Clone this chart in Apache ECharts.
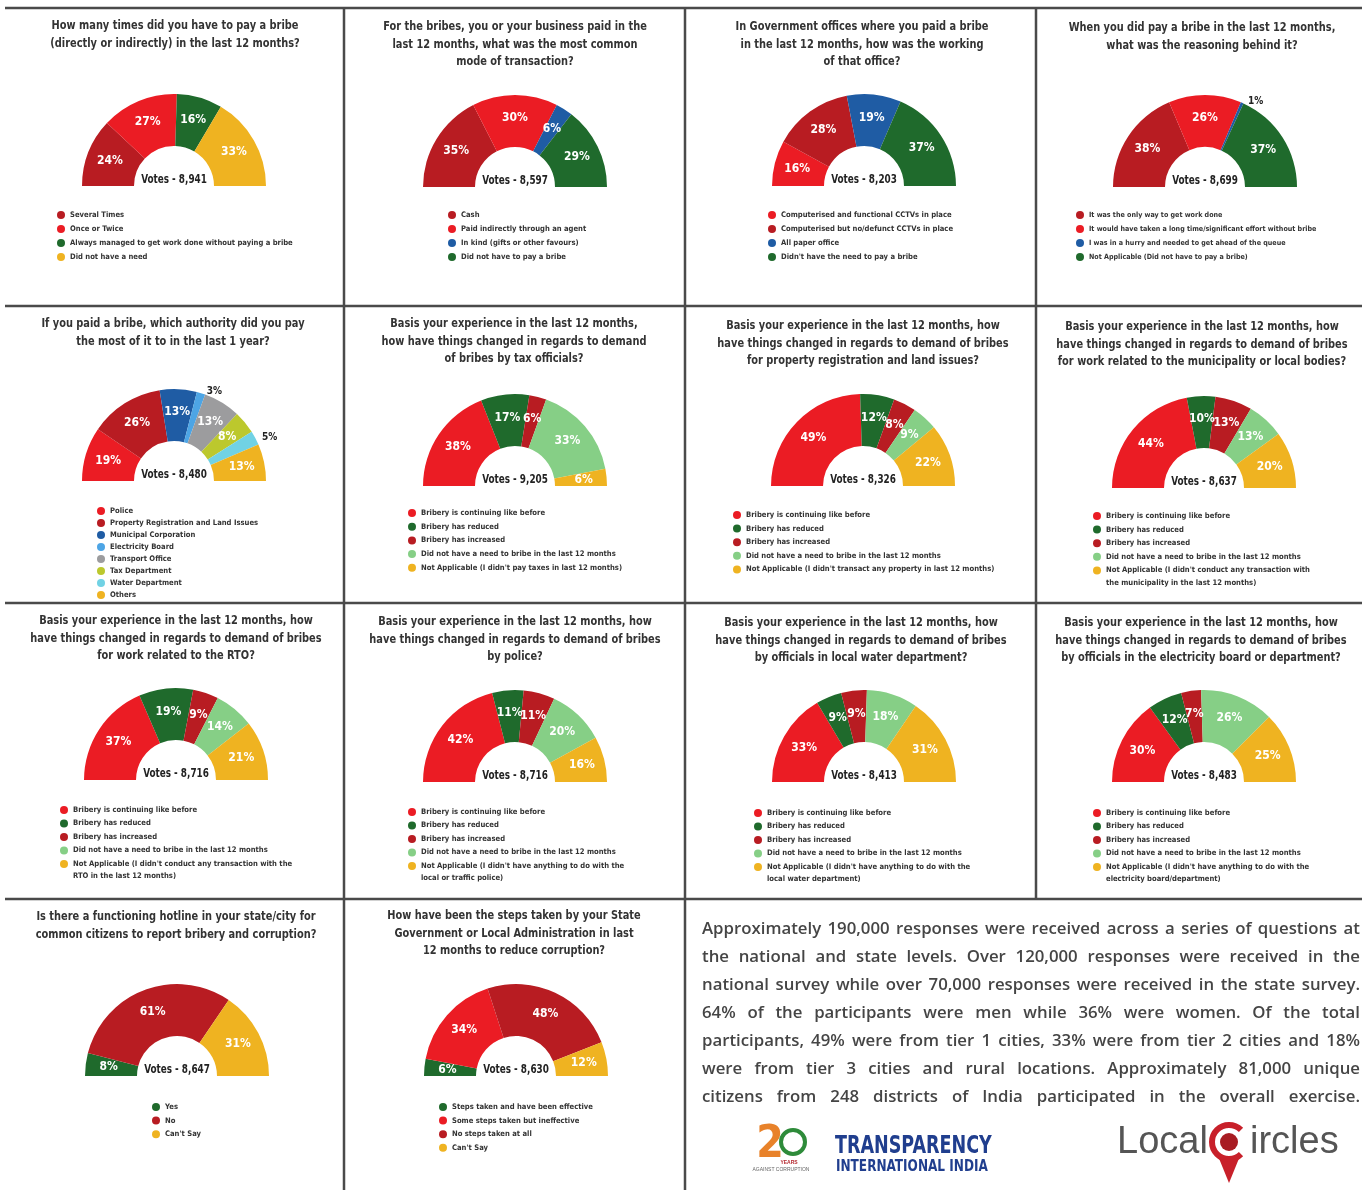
<!DOCTYPE html>
<html>
<head>
<meta charset="utf-8">
<script src="https://cdn.jsdelivr.net/npm/echarts@6/dist/echarts.min.js"></script>
<style>
html,body{margin:0;padding:0;background:#fff;}
#chart{position:absolute;left:0;top:0;width:1367px;height:1190px;}
#para{position:absolute;left:702px;top:914px;width:658px;font-family:"Open Sans",Lato,sans-serif;font-weight:600;font-size:16.8px;color:#454545;z-index:5;}
#para div{height:28px;line-height:28px;text-align:justify;text-align-last:justify;white-space:nowrap;}
</style>
</head>
<body>
<div id="chart"></div>
<div id="para">
<div>Approximately 190,000 responses were received across a series of questions at</div>
<div>the national and state levels. Over 120,000 responses were received in the</div>
<div>national survey while over 70,000 responses were received in the state survey.</div>
<div>64% of the participants were men while 36% were women. Of the total</div>
<div>participants, 49% were from tier 1 cities, 33% were from tier 2 cities and 18%</div>
<div>were from tier 3 cities and rural locations. Approximately 81,000 unique</div>
<div>citizens from 248 districts of India participated in the overall exercise.</div>
</div>
<script>
// ---------------- DATA ----------------
const q1Title = 'How many times did you have to pay a bribe\n(directly or indirectly) in the last 12 months?';
const q1Names = ['Several Times', 'Once or Twice', 'Always managed to get work done without paying a bribe', 'Did not have a need'];
const q1Values = [24, 27, 16, 33];
const q1Votes = 'Votes - 8,941';

const q2Title = 'For the bribes, you or your business paid in the\nlast 12 months, what was the most common\nmode of transaction?';
const q2Names = ['Cash', 'Paid indirectly through an agent', 'In kind (gifts or other favours)', 'Did not have to pay a bribe'];
const q2Values = [35, 30, 6, 29];
const q2Votes = 'Votes - 8,597';

const q3Title = 'In Government offices where you paid a bribe\nin the last 12 months, how was the working\nof that office?';
const q3Names = ['Computerised and functional CCTVs in place', 'Computerised but no/defunct CCTVs in place', 'All paper office', "Didn't have the need to pay a bribe"];
const q3Values = [16, 28, 19, 37];
const q3Votes = 'Votes - 8,203';

const q4Title = 'When you did pay a bribe in the last 12 months,\nwhat was the reasoning behind it?';
const q4Names = ['It was the only way to get work done', 'It would have taken a long time/significant effort without bribe', 'I was in a hurry and needed to get ahead of the queue', 'Not Applicable (Did not have to pay a bribe)'];
const q4Values = [38, 26, 1, 37];
const q4Votes = 'Votes - 8,699';

const q5Title = 'If you paid a bribe, which authority did you pay\nthe most of it to in the last 1 year?';
const q5Names = ['Police', 'Property Registration and Land Issues', 'Municipal Corporation', 'Electricity Board', 'Transport Office', 'Tax Department', 'Water Department', 'Others'];
const q5Values = [19, 26, 13, 3, 13, 8, 5, 13];
const q5Votes = 'Votes - 8,480';

const changeNames = ['Bribery is continuing like before', 'Bribery has reduced', 'Bribery has increased', 'Did not have a need to bribe in the last 12 months'];

const q6Title = 'Basis your experience in the last 12 months,\nhow have things changed in regards to demand\nof bribes by tax officials?';
const q6Names = changeNames.concat(["Not Applicable (I didn't pay taxes in last 12 months)"]);
const q6Values = [38, 17, 6, 33, 6];
const q6Votes = 'Votes - 9,205';

const q7Title = 'Basis your experience in the last 12 months, how\nhave things changed in regards to demand of bribes\nfor property registration and land issues?';
const q7Names = changeNames.concat(["Not Applicable (I didn't transact any property in last 12 months)"]);
const q7Values = [49, 12, 8, 9, 22];
const q7Votes = 'Votes - 8,326';

const q8Title = 'Basis your experience in the last 12 months, how\nhave things changed in regards to demand of bribes\nfor work related to the municipality or local bodies?';
const q8Names = changeNames.concat(["Not Applicable (I didn't conduct any transaction with\nthe municipality in the last 12 months)"]);
const q8Values = [44, 10, 13, 13, 20];
const q8Votes = 'Votes - 8,637';

const q9Title = 'Basis your experience in the last 12 months, how\nhave things changed in regards to demand of bribes\nfor work related to the RTO?';
const q9Names = changeNames.concat(["Not Applicable (I didn't conduct any transaction with the\nRTO in the last 12 months)"]);
const q9Values = [37, 19, 9, 14, 21];
const q9Votes = 'Votes - 8,716';

const q10Title = 'Basis your experience in the last 12 months, how\nhave things changed in regards to demand of bribes\nby police?';
const q10Names = changeNames.concat(["Not Applicable (I didn't have anything to do with the\nlocal or traffic police)"]);
const q10Values = [42, 11, 11, 20, 16];
const q10Votes = 'Votes - 8,716';

const q11Title = 'Basis your experience in the last 12 months, how\nhave things changed in regards to demand of bribes\nby officials in local water department?';
const q11Names = changeNames.concat(["Not Applicable (I didn't have anything to do with the\nlocal water department)"]);
const q11Values = [33, 9, 9, 18, 31];
const q11Votes = 'Votes - 8,413';

const q12Title = 'Basis your experience in the last 12 months, how\nhave things changed in regards to demand of bribes\nby officials in the electricity board or department?';
const q12Names = changeNames.concat(["Not Applicable (I didn't have anything to do with the\nelectricity board/department)"]);
const q12Values = [30, 12, 7, 26, 25];
const q12Votes = 'Votes - 8,483';

const q13Title = 'Is there a functioning hotline in your state/city for\ncommon citizens to report bribery and corruption?';
const q13Names = ['Yes', 'No', "Can't Say"];
const q13Values = [8, 61, 31];
const q13Votes = 'Votes - 8,647';

const q14Title = 'How have been the steps taken by your State\nGovernment or Local Administration in last\n12 months to reduce corruption?';
const q14Names = ['Steps taken and have been effective', 'Some steps taken but ineffective', 'No steps taken at all', "Can't Say"];
const q14Values = [6, 34, 48, 12];
const q14Votes = 'Votes - 8,630';

// ---------------- STYLE ----------------
const DR = '#B81C22', R = '#EB1C24', DG = '#1F6A2C', Y = '#EFB321', B = '#1F5CA4',
      LB = '#4DA5E5', GY = '#9C9C9E', YG = '#BCC82D', CY = '#71D2E4', LG = '#86CF86';
const NARROW = '"DejaVu Sans Condensed","Liberation Sans Narrow",Roboto,sans-serif';

const panels = [
  {title: q1Title, names: q1Names, values: q1Values, votes: q1Votes, colors: [DR, R, DG, Y], outside: []},
  {title: q2Title, names: q2Names, values: q2Values, votes: q2Votes, colors: [DR, R, B, DG], outside: []},
  {title: q3Title, names: q3Names, values: q3Values, votes: q3Votes, colors: [R, DR, B, DG], outside: []},
  {title: q4Title, names: q4Names, values: q4Values, votes: q4Votes, colors: [DR, R, B, DG], outside: [2]},
  {title: q5Title, names: q5Names, values: q5Values, votes: q5Votes, colors: [R, DR, B, LB, GY, YG, CY, Y], outside: [3, 6]},
  {title: q6Title, names: q6Names, values: q6Values, votes: q6Votes, colors: [R, DG, DR, LG, Y], outside: []},
  {title: q7Title, names: q7Names, values: q7Values, votes: q7Votes, colors: [R, DG, DR, LG, Y], outside: []},
  {title: q8Title, names: q8Names, values: q8Values, votes: q8Votes, colors: [R, DG, DR, LG, Y], outside: []},
  {title: q9Title, names: q9Names, values: q9Values, votes: q9Votes, colors: [R, DG, DR, LG, Y], outside: []},
  {title: q10Title, names: q10Names, values: q10Values, votes: q10Votes, colors: [R, DG, DR, LG, Y], outside: []},
  {title: q11Title, names: q11Names, values: q11Values, votes: q11Votes, colors: [R, DG, DR, LG, Y], outside: []},
  {title: q12Title, names: q12Names, values: q12Values, votes: q12Votes, colors: [R, DG, DR, LG, Y], outside: []},
  {title: q13Title, names: q13Names, values: q13Values, votes: q13Votes, colors: [DG, DR, Y], outside: []},
  {title: q14Title, names: q14Names, values: q14Values, votes: q14Votes, colors: [DG, R, DR, Y], outside: []}
];

// layout: pie centre x, baseline y, title centre x, first title line y, legend marker x, first legend y, legend row gap
const layout = [
  {cx: 174, by: 186, tx: 175, ty: 26, lx: 61, ly: 215, gap: 14},
  {cx: 515, by: 187, tx: 515, ty: 27, lx: 452, ly: 215, gap: 14},
  {cx: 864, by: 186, tx: 862, ty: 27, lx: 772, ly: 215, gap: 14},
  {cx: 1205, by: 187, tx: 1202, ty: 28, lx: 1080, ly: 215, gap: 14, fs: 7.1},
  {cx: 174, by: 481, tx: 173, ty: 324, lx: 101, ly: 511, gap: 12, lh: 11},
  {cx: 515, by: 486, tx: 514, ty: 324, lx: 412, ly: 513, gap: 13.7},
  {cx: 863, by: 486, tx: 863, ty: 326, lx: 737, ly: 515, gap: 13.6},
  {cx: 1204, by: 488, tx: 1202, ty: 327, lx: 1097, ly: 516, gap: 13.6},
  {cx: 176, by: 780, tx: 176, ty: 621, lx: 64, ly: 810, gap: 13.5},
  {cx: 515, by: 782, tx: 515, ty: 622, lx: 412, ly: 812, gap: 13.5},
  {cx: 864, by: 782, tx: 861, ty: 623, lx: 758, ly: 813, gap: 13.5},
  {cx: 1204, by: 782, tx: 1201, ty: 623, lx: 1097, ly: 813, gap: 13.5},
  {cx: 177, by: 1076, tx: 176, ty: 917, lx: 156, ly: 1107, gap: 13.6},
  {cx: 516, by: 1076, tx: 514, ty: 916, lx: 443, ly: 1107, gap: 13.6}
];
const OUTER_R = 92, INNER_R = 40, TITLE_LH = 17.5, TITLE_SCALE = 0.84;

const series = [], legends = [], graphics = [];
panels.forEach(function (p, k) {
  const L = layout[k];
  series.push({
    type: 'pie',
    center: [L.cx, L.by],
    radius: [INNER_R, OUTER_R],
    startAngle: 180,
    endAngle: 0,
    avoidLabelOverlap: false,
    labelLayout: {hideOverlap: false},
    silent: true,
    animation: false,
    label: {show: true, position: 'inside', formatter: '{c}%', color: '#fff', fontSize: 12, fontWeight: 'bold', fontFamily: NARROW},
    labelLine: {show: false},
    emphasis: {disabled: true},
    data: p.names.map(function (n, i) {
      const d = {name: n, value: p.values[i], itemStyle: {color: p.colors[i]}};
      if (p.outside.indexOf(i) >= 0) {
        d.label = {position: 'outside', color: '#222', fontSize: 10};
        d.labelLine = {show: false, length: 2, length2: 0};
      }
      return d;
    })
  });

  const lh = L.lh || 12.5;
  const common = {
    orient: 'vertical', icon: 'circle', itemWidth: 8, itemHeight: 8, padding: 0,
    selectedMode: false,
    textStyle: {fontSize: L.fs || 7.6, fontWeight: 'bold', color: '#333', fontFamily: NARROW, lineHeight: lh}
  };
  const n = p.names.length;
  const multi = p.names[n - 1].indexOf('\n') >= 0;
  const mainNames = multi ? p.names.slice(0, n - 1) : p.names;
  legends.push(Object.assign({}, common, {data: mainNames, left: L.lx - 4, top: L.ly - lh / 2, itemGap: L.gap - lh}));
  if (multi) {
    // leading blank line keeps the marker level with the first line of the two-line entry
    legends.push(Object.assign({}, common, {
      data: [p.names[n - 1]],
      formatter: function (name) { return '\n' + name; },
      left: L.lx - 4, top: L.ly + (n - 1) * L.gap - 1.5 * lh
    }));
  }

  graphics.push({
    type: 'text', x: L.tx, y: L.ty - TITLE_LH / 2, scaleX: TITLE_SCALE, silent: true,
    style: {text: p.title, fill: '#333', fontSize: 13, fontWeight: 'bold', fontFamily: NARROW, lineHeight: TITLE_LH,
      align: 'center', textAlign: 'center', verticalAlign: 'top', textVerticalAlign: 'top'}
  });
  graphics.push({
    type: 'text', x: L.cx, y: L.by - 6, scaleX: 0.82, z: 10, silent: true,
    style: {text: p.votes, fill: '#222', fontSize: 12, fontWeight: 'bold', fontFamily: NARROW,
      align: 'center', textAlign: 'center', verticalAlign: 'middle', textVerticalAlign: 'middle'}
  });
});

// panel dividers
const LINE = {stroke: '#4a4a4a', lineWidth: 2.5};
[[5, 8, 1362, 8], [5, 306, 1362, 306], [5, 603, 1362, 603], [5, 899, 1362, 899],
 [344, 8, 344, 1190], [685, 8, 685, 1190], [1036, 8, 1036, 899]].forEach(function (s) {
  graphics.push({type: 'line', silent: true, shape: {x1: s[0], y1: s[1], x2: s[2], y2: s[3]}, style: LINE});
});

// logos
const MID = {verticalAlign: 'middle', textVerticalAlign: 'middle'};
graphics.push(
  {type: 'text', x: 770, y: 1146, silent: true, style: Object.assign({text: '2', fill: '#E8822A', fontSize: 44, fontWeight: 'bold', fontFamily: NARROW, align: 'center', textAlign: 'center'}, MID)},
  {type: 'circle', silent: true, shape: {cx: 793, cy: 1142, r: 12}, style: {fill: 'none', stroke: '#2E8B3A', lineWidth: 4}},
  {type: 'text', x: 789, y: 1163, silent: true, style: Object.assign({text: 'YEARS', fill: '#B4282E', fontSize: 5, fontWeight: 'bold', align: 'center', textAlign: 'center'}, MID)},
  {type: 'text', x: 781, y: 1170, silent: true, style: Object.assign({text: 'AGAINST CORRUPTION', fill: '#666', fontSize: 5, align: 'center', textAlign: 'center'}, MID)},
  {type: 'text', x: 835, y: 1146, scaleX: 0.78, silent: true, style: Object.assign({text: 'TRANSPARENCY', fill: '#203E8E', fontSize: 25, fontWeight: 'bold', fontFamily: NARROW, align: 'left', textAlign: 'left'}, MID)},
  {type: 'text', x: 836, y: 1167, scaleX: 0.84, silent: true, style: Object.assign({text: 'INTERNATIONAL INDIA', fill: '#203E8E', fontSize: 16, fontWeight: 'bold', fontFamily: NARROW, align: 'left', textAlign: 'left'}, MID)},
  {type: 'text', x: 1117, y: 1143, silent: true, style: Object.assign({text: 'Local', fill: '#555', fontSize: 38, fontFamily: '"Liberation Sans",Arial,sans-serif', align: 'left', textAlign: 'left'}, MID)},
  {type: 'polygon', silent: true, shape: {points: [[1218, 1156], [1240, 1156], [1229, 1183]]}, style: {fill: '#C8202A'}},
  {type: 'arc', silent: true, shape: {cx: 1229, cy: 1142, r: 17, startAngle: Math.PI * 0.25, endAngle: Math.PI * 1.75, clockwise: true}, style: {stroke: '#C8202A', lineWidth: 6, fill: 'none'}},
  {type: 'circle', silent: true, shape: {cx: 1229, cy: 1142, r: 9}, style: {fill: '#A81C22'}},
  {type: 'text', x: 1250, y: 1143, silent: true, style: Object.assign({text: 'ircles', fill: '#555', fontSize: 38, fontFamily: '"Liberation Sans",Arial,sans-serif', align: 'left', textAlign: 'left'}, MID)}
);

const chart = echarts.init(document.getElementById('chart'), null, {renderer: 'canvas'});
chart.setOption({
  animation: false,
  backgroundColor: '#fff',
  tooltip: {show: false},
  legend: legends,
  series: series,
  graphic: {elements: graphics}
});
</script>
</body>
</html>
